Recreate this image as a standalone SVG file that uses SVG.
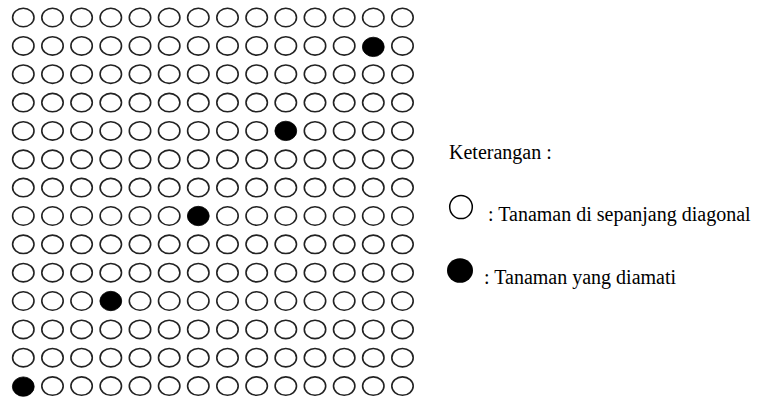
<svg xmlns="http://www.w3.org/2000/svg" xmlns:xlink="http://www.w3.org/1999/xlink" width="766" height="399" viewBox="0 0 766 399">
<style>
.o{fill:#fff;stroke:#222;stroke-width:1.6}
.f{fill:#000;stroke:#000;stroke-width:0.8}
.t{font-family:"Liberation Serif","Times New Roman",serif;font-size:20px;fill:#000}
</style>
<defs>
<ellipse id="o" class="o" cx="0" cy="0" rx="10.7" ry="9.2"/>
<ellipse id="f" class="f" cx="0" cy="0" rx="10.9" ry="9.7"/>
</defs>
<rect width="766" height="399" fill="#fff"/>
<g id="grid">
<g id="row1"><use href="#o" x="23.3" y="17.5"/><use href="#o" x="52.5" y="17.5"/><use href="#o" x="81.6" y="17.5"/><use href="#o" x="110.8" y="17.5"/><use href="#o" x="140" y="17.5"/><use href="#o" x="169.2" y="17.5"/><use href="#o" x="198.3" y="17.5"/><use href="#o" x="227.5" y="17.5"/><use href="#o" x="256.7" y="17.5"/><use href="#o" x="285.8" y="17.5"/><use href="#o" x="315" y="17.5"/><use href="#o" x="344.2" y="17.5"/><use href="#o" x="373.3" y="17.5"/><use href="#o" x="402.5" y="17.5"/></g>
<g id="row2"><use href="#o" x="23.3" y="45.9"/><use href="#o" x="52.5" y="45.9"/><use href="#o" x="81.6" y="45.9"/><use href="#o" x="110.8" y="45.9"/><use href="#o" x="140" y="45.9"/><use href="#o" x="169.2" y="45.9"/><use href="#o" x="198.3" y="45.9"/><use href="#o" x="227.5" y="45.9"/><use href="#o" x="256.7" y="45.9"/><use href="#o" x="285.8" y="45.9"/><use href="#o" x="315" y="45.9"/><use href="#o" x="344.2" y="45.9"/><use href="#f" x="373.3" y="46.9"/><use href="#o" x="402.5" y="45.9"/></g>
<g id="row3"><use href="#o" x="23.3" y="74.2"/><use href="#o" x="52.5" y="74.2"/><use href="#o" x="81.6" y="74.2"/><use href="#o" x="110.8" y="74.2"/><use href="#o" x="140" y="74.2"/><use href="#o" x="169.2" y="74.2"/><use href="#o" x="198.3" y="74.2"/><use href="#o" x="227.5" y="74.2"/><use href="#o" x="256.7" y="74.2"/><use href="#o" x="285.8" y="74.2"/><use href="#o" x="315" y="74.2"/><use href="#o" x="344.2" y="74.2"/><use href="#o" x="373.3" y="74.2"/><use href="#o" x="402.5" y="74.2"/></g>
<g id="row4"><use href="#o" x="23.3" y="102.6"/><use href="#o" x="52.5" y="102.6"/><use href="#o" x="81.6" y="102.6"/><use href="#o" x="110.8" y="102.6"/><use href="#o" x="140" y="102.6"/><use href="#o" x="169.2" y="102.6"/><use href="#o" x="198.3" y="102.6"/><use href="#o" x="227.5" y="102.6"/><use href="#o" x="256.7" y="102.6"/><use href="#o" x="285.8" y="102.6"/><use href="#o" x="315" y="102.6"/><use href="#o" x="344.2" y="102.6"/><use href="#o" x="373.3" y="102.6"/><use href="#o" x="402.5" y="102.6"/></g>
<g id="row5"><use href="#o" x="23.3" y="130.9"/><use href="#o" x="52.5" y="130.9"/><use href="#o" x="81.6" y="130.9"/><use href="#o" x="110.8" y="130.9"/><use href="#o" x="140" y="130.9"/><use href="#o" x="169.2" y="130.9"/><use href="#o" x="198.3" y="130.9"/><use href="#o" x="227.5" y="130.9"/><use href="#o" x="256.7" y="130.9"/><use href="#f" x="285.8" y="130.9"/><use href="#o" x="315" y="130.9"/><use href="#o" x="344.2" y="130.9"/><use href="#o" x="373.3" y="130.9"/><use href="#o" x="402.5" y="130.9"/></g>
<g id="row6"><use href="#o" x="23.3" y="159.3"/><use href="#o" x="52.5" y="159.3"/><use href="#o" x="81.6" y="159.3"/><use href="#o" x="110.8" y="159.3"/><use href="#o" x="140" y="159.3"/><use href="#o" x="169.2" y="159.3"/><use href="#o" x="198.3" y="159.3"/><use href="#o" x="227.5" y="159.3"/><use href="#o" x="256.7" y="159.3"/><use href="#o" x="285.8" y="159.3"/><use href="#o" x="315" y="159.3"/><use href="#o" x="344.2" y="159.3"/><use href="#o" x="373.3" y="159.3"/><use href="#o" x="402.5" y="159.3"/></g>
<g id="row7"><use href="#o" x="23.3" y="187.6"/><use href="#o" x="52.5" y="187.6"/><use href="#o" x="81.6" y="187.6"/><use href="#o" x="110.8" y="187.6"/><use href="#o" x="140" y="187.6"/><use href="#o" x="169.2" y="187.6"/><use href="#o" x="198.3" y="187.6"/><use href="#o" x="227.5" y="187.6"/><use href="#o" x="256.7" y="187.6"/><use href="#o" x="285.8" y="187.6"/><use href="#o" x="315" y="187.6"/><use href="#o" x="344.2" y="187.6"/><use href="#o" x="373.3" y="187.6"/><use href="#o" x="402.5" y="187.6"/></g>
<g id="row8"><use href="#o" x="23.3" y="216"/><use href="#o" x="52.5" y="216"/><use href="#o" x="81.6" y="216"/><use href="#o" x="110.8" y="216"/><use href="#o" x="140" y="216"/><use href="#o" x="169.2" y="216"/><use href="#f" x="198.3" y="216"/><use href="#o" x="227.5" y="216"/><use href="#o" x="256.7" y="216"/><use href="#o" x="285.8" y="216"/><use href="#o" x="315" y="216"/><use href="#o" x="344.2" y="216"/><use href="#o" x="373.3" y="216"/><use href="#o" x="402.5" y="216"/></g>
<g id="row9"><use href="#o" x="23.3" y="244.3"/><use href="#o" x="52.5" y="244.3"/><use href="#o" x="81.6" y="244.3"/><use href="#o" x="110.8" y="244.3"/><use href="#o" x="140" y="244.3"/><use href="#o" x="169.2" y="244.3"/><use href="#o" x="198.3" y="244.3"/><use href="#o" x="227.5" y="244.3"/><use href="#o" x="256.7" y="244.3"/><use href="#o" x="285.8" y="244.3"/><use href="#o" x="315" y="244.3"/><use href="#o" x="344.2" y="244.3"/><use href="#o" x="373.3" y="244.3"/><use href="#o" x="402.5" y="244.3"/></g>
<g id="row10"><use href="#o" x="23.3" y="272.7"/><use href="#o" x="52.5" y="272.7"/><use href="#o" x="81.6" y="272.7"/><use href="#o" x="110.8" y="272.7"/><use href="#o" x="140" y="272.7"/><use href="#o" x="169.2" y="272.7"/><use href="#o" x="198.3" y="272.7"/><use href="#o" x="227.5" y="272.7"/><use href="#o" x="256.7" y="272.7"/><use href="#o" x="285.8" y="272.7"/><use href="#o" x="315" y="272.7"/><use href="#o" x="344.2" y="272.7"/><use href="#o" x="373.3" y="272.7"/><use href="#o" x="402.5" y="272.7"/></g>
<g id="row11"><use href="#o" x="23.3" y="301"/><use href="#o" x="52.5" y="301"/><use href="#o" x="81.6" y="301"/><use href="#f" x="110.8" y="301"/><use href="#o" x="140" y="301"/><use href="#o" x="169.2" y="301"/><use href="#o" x="198.3" y="301"/><use href="#o" x="227.5" y="301"/><use href="#o" x="256.7" y="301"/><use href="#o" x="285.8" y="301"/><use href="#o" x="315" y="301"/><use href="#o" x="344.2" y="301"/><use href="#o" x="373.3" y="301"/><use href="#o" x="402.5" y="301"/></g>
<g id="row12"><use href="#o" x="23.3" y="329.4"/><use href="#o" x="52.5" y="329.4"/><use href="#o" x="81.6" y="329.4"/><use href="#o" x="110.8" y="329.4"/><use href="#o" x="140" y="329.4"/><use href="#o" x="169.2" y="329.4"/><use href="#o" x="198.3" y="329.4"/><use href="#o" x="227.5" y="329.4"/><use href="#o" x="256.7" y="329.4"/><use href="#o" x="285.8" y="329.4"/><use href="#o" x="315" y="329.4"/><use href="#o" x="344.2" y="329.4"/><use href="#o" x="373.3" y="329.4"/><use href="#o" x="402.5" y="329.4"/></g>
<g id="row13"><use href="#o" x="23.3" y="357.7"/><use href="#o" x="52.5" y="357.7"/><use href="#o" x="81.6" y="357.7"/><use href="#o" x="110.8" y="357.7"/><use href="#o" x="140" y="357.7"/><use href="#o" x="169.2" y="357.7"/><use href="#o" x="198.3" y="357.7"/><use href="#o" x="227.5" y="357.7"/><use href="#o" x="256.7" y="357.7"/><use href="#o" x="285.8" y="357.7"/><use href="#o" x="315" y="357.7"/><use href="#o" x="344.2" y="357.7"/><use href="#o" x="373.3" y="357.7"/><use href="#o" x="402.5" y="357.7"/></g>
<g id="row14"><use href="#f" x="23.3" y="386.6"/><use href="#o" x="52.5" y="386.1"/><use href="#o" x="81.6" y="386.1"/><use href="#o" x="110.8" y="386.1"/><use href="#o" x="140" y="386.1"/><use href="#o" x="169.2" y="386.1"/><use href="#o" x="198.3" y="386.1"/><use href="#o" x="227.5" y="386.1"/><use href="#o" x="256.7" y="386.1"/><use href="#o" x="285.8" y="386.1"/><use href="#o" x="315" y="386.1"/><use href="#o" x="344.2" y="386.1"/><use href="#o" x="373.3" y="386.1"/><use href="#o" x="402.5" y="386.1"/></g>
</g>
<g id="legend">
<text class="t" x="449" y="159">Keterangan :</text>
<g id="legend-open">
<ellipse cx="461" cy="207" rx="11.3" ry="11.6" fill="#fff" stroke="#000" stroke-width="1.5"/>
<text class="t" x="488" y="221">: Tanaman di sepanjang diagonal</text>
</g>
<g id="legend-filled">
<ellipse cx="460" cy="270.5" rx="13" ry="12.3" fill="#000"/>
<text class="t" x="484" y="284">: Tanaman yang diamati</text>
</g>
</g>
</svg>
